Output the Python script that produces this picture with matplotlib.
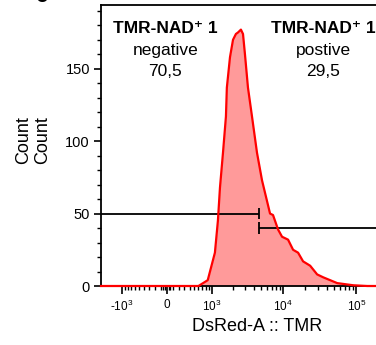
import matplotlib.pyplot as plt
import numpy as np
from matplotlib.ticker import FixedLocator, NullFormatter

plt.rcParams['font.family'] = ['Liberation Sans', 'DejaVu Sans']

# histogram (DsRed-A intensity, count)
intensity = [-2000, 600, 860, 1110, 1230, 1320, 1460, 1610, 1660, 1840, 2030, 2230,
             2380, 2620, 2800, 2980, 3280, 3730, 4370, 5120, 6600, 7250, 8500,
             9640, 11650, 13650, 15970, 18700, 23350, 29100, 35200, 54700, 90600,
             141000, 262144]
counts = [0, 0, 4, 23, 45, 68, 92, 117, 137, 158, 170, 174,
          175, 177, 174, 160, 137, 117, 92, 73, 50, 49, 39,
          34, 32, 25, 23, 17, 14, 8, 6, 2, 0.5,
          0, 0]

gate_x = 4600
gate_neg_y = 50
gate_pos_y = 40
x_limits = (-2000, 262144)

major_ticks = [-1000, 0, 1000, 10000, 100000]
major_labels = ['-$\\mathregular{10^3}$', '0', '$\\mathregular{10^3}$',
                '$\\mathregular{10^4}$', '$\\mathregular{10^5}$']
minor_ticks = ([-v for v in range(100, 1000, 100)] + [-30, -60]
               + [30, 60] + list(range(100, 1000, 100))
               + list(range(2000, 10000, 1000)) + list(range(20000, 100000, 10000))
               + [200000])

c = 513.0


def fwd(x):
    return np.arcsinh(np.asarray(x) / c)


def inv(y):
    return c * np.sinh(np.asarray(y))


fig = plt.figure(figsize=(3.76, 3.45), dpi=100)
ax = fig.add_axes([101 / 376, 59 / 345, 286 / 376, 281 / 345])
ax.set_xscale('function', functions=(fwd, inv))

ax.fill_between(intensity, counts, color='#ff9a9a', linewidth=0)
ax.plot(intensity, counts, color='#ff0000', linewidth=1.6, clip_on=False, zorder=4)

# gates
ax.hlines(gate_neg_y, x_limits[0], gate_x, color='black', linewidth=1.3)
ax.vlines(gate_x, gate_neg_y - 4, gate_neg_y + 4, color='black', linewidth=1.3)
ax.hlines(gate_pos_y, gate_x, x_limits[1], color='black', linewidth=1.3)
ax.vlines(gate_x, gate_pos_y - 4, gate_pos_y + 4, color='black', linewidth=1.3)

ax.set_xlim(x_limits)
ax.set_ylim(0, 194)

ax.xaxis.set_major_locator(FixedLocator(major_ticks))
ax.set_xticklabels(major_labels)
ax.xaxis.set_minor_locator(FixedLocator(minor_ticks))
ax.xaxis.set_minor_formatter(NullFormatter())
ax.set_yticks([0, 50, 100, 150])
ax.yaxis.set_minor_locator(FixedLocator(np.arange(0, 194, 10)))

ax.tick_params(axis='x', which='major', length=6, width=1.2, labelsize=8.5, pad=3)
ax.tick_params(axis='x', which='minor', length=3, width=1.0)
ax.tick_params(axis='y', which='major', length=5, width=1.2, labelsize=10.5, pad=3)
ax.tick_params(axis='y', which='minor', length=3, width=1.0)
for s in ax.spines.values():
    s.set_linewidth(1.3)

ax.set_xlabel('DsRed-A :: TMR', fontsize=13)
ax.xaxis.set_label_coords(0.545, -0.115)
ax.set_ylabel('Count\nCount', fontsize=13, linespacing=1.15)
ax.yaxis.set_label_coords(-0.175, 0.52)

kw = dict(transform=ax.transAxes, ha='center', va='center', fontsize=12.5)
ax.text(0.225, 0.915, 'TMR-NAD\u207a 1', fontweight='bold', **kw)
ax.text(0.225, 0.838, 'negative', **kw)
ax.text(0.225, 0.762, '70,5', **kw)
ax.text(0.778, 0.915, 'TMR-NAD\u207a 1', fontweight='bold', **kw)
ax.text(0.778, 0.838, 'postive', **kw)
ax.text(0.778, 0.762, '29,5', **kw)

# panel letter, cut off at the top edge as in the source figure
fig.text(41 / 376, 1 - 7 / 345, 'c', fontsize=16, fontweight='bold', ha='center', va='bottom')

plt.savefig('out.png', dpi=100)
